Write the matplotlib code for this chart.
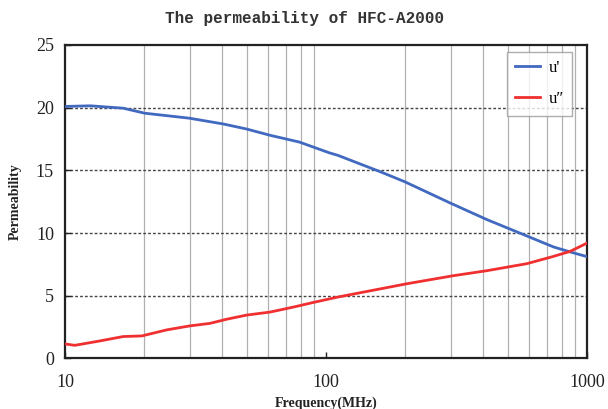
import matplotlib
matplotlib.use("Agg")
import matplotlib.pyplot as plt
from matplotlib.ticker import FixedLocator, FixedFormatter, NullLocator

freq_u1 = [10, 12.5, 16.7, 20.2, 30, 40.4, 49.6, 61, 79, 103, 111, 161, 200, 299, 413, 553, 743, 861, 1000]
u1 = [20.1, 20.15, 19.96, 19.56, 19.16, 18.7, 18.3, 17.8, 17.26, 16.4, 16.2, 14.9, 14.1, 12.4, 11.08, 10.0, 8.9, 8.5, 8.12]

freq_u2 = [10, 10.9, 13.6, 16.7, 19.7, 24.5, 30.1, 35.9, 41.6, 49.6, 61, 75, 89, 111, 204, 307, 413, 588, 743, 861, 1000]
u2 = [1.16, 1.05, 1.4, 1.75, 1.8, 2.28, 2.6, 2.8, 3.13, 3.46, 3.7, 4.1, 4.46, 4.9, 5.96, 6.6, 7.0, 7.56, 8.14, 8.54, 9.2]

x_ticks = [10, 100, 1000]
y_ticks = [0, 5, 10, 15, 20, 25]

fig = plt.figure(figsize=(6.08, 4.09), dpi=100)
ax = fig.add_axes([0.107, 0.1235, 0.8585, 0.7665])

ax.set_xscale("log")
ax.set_xlim(10, 1000)
ax.set_ylim(0, 25)

minor = [m * d for d in (10, 100) for m in range(2, 10)]
for v in minor:
    ax.axvline(v, color="#b0b0b0", lw=0.9, zorder=1)
for v in [5, 10, 15, 20]:
    ax.axhline(v, color="#444444", lw=1.0, ls=(0, (2, 1.5)), zorder=1)

ax.plot(freq_u1, u1, color="#4169c0", lw=2.0, label="u'", zorder=3)
ax.plot(freq_u2, u2, color="#f03030", lw=2.0, label="u\u2033", zorder=3)

ax.xaxis.set_major_locator(FixedLocator(x_ticks))
ax.xaxis.set_major_formatter(FixedFormatter([str(t) for t in x_ticks]))
ax.xaxis.set_minor_locator(NullLocator())
ax.set_yticks(y_ticks)

serif = ["Liberation Serif", "DejaVu Serif"]
for lab in ax.get_xticklabels() + ax.get_yticklabels():
    lab.set_fontfamily(serif)
    lab.set_fontsize(13)
    lab.set_color("#222222")

ax.tick_params(axis="both", direction="in", length=4, width=1, color="#222222")
ax.tick_params(axis="x", pad=11)
ax.tick_params(axis="y", pad=8)

for s in ax.spines.values():
    s.set_linewidth(1.6)
    s.set_color("#222222")

fig.text(305 / 608, 1 - 18 / 409, "The permeability of HFC-A2000",
         fontfamily=["Liberation Mono", "DejaVu Sans Mono"], fontsize=11.5,
         fontweight="bold", color="#333333", ha="center", va="center")
ax.set_xlabel("Frequency(MHz)", fontfamily=serif, fontsize=10, fontweight="bold", color="#222222", labelpad=4)
ax.set_ylabel("Permeability", fontfamily=serif, fontsize=10, fontweight="bold", color="#222222", labelpad=10)

leg = ax.legend(loc="upper right", bbox_to_anchor=(0.971, 0.978), prop={"family": serif, "size": 12},
                frameon=True, fancybox=False, edgecolor="#999999", handlelength=1.5,
                handletextpad=0.5, borderpad=0.5, labelspacing=0.9, borderaxespad=0)
leg.get_frame().set_linewidth(1.0)

fig.savefig("out.png", dpi=100)
